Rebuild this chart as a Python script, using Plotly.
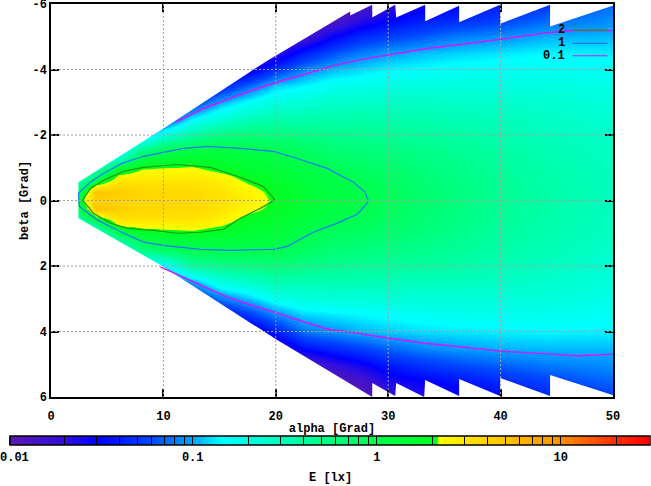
import numpy as np
import plotly.graph_objects as go

alpha = [2.4, 4, 6, 8, 10, 12.5, 15, 17.5, 20, 22.5, 25, 27.5, 30, 33, 36, 40, 44, 50]
beta = [-6, -5.5, -5, -4.5, -4, -3.5, -3, -2.5, -2, -1.5, -1.25, -1, -.75, -.5, -.25, 0,
        .25, .5, .75, 1, 1.25, 1.5, 2, 2.5, 3, 3.5, 4, 4.5, 5, 5.5, 6]

E_2_4 = [.1, .1, .1, .1, .1, .1, .1, .1, .1, .1, .1, .1, .15, .4, 1.0, 1.7, .9, .4, .15, .1, .1, .1, .1, .1, .1, .1, .1, .1, .1, .1, .1]
E_4 = [.1, .1, .1, .1, .1, .1, .1, .1, .1, .1, .1, .25, .7, 1.9, 5.0, 4.2, 5.0, 1.9, .5, .2, .1, .1, .1, .1, .1, .1, .1, .1, .1, .1, .1]
E_6 = [.1, .1, .1, .1, .1, .1, .1, .1, .1, .1, .3, 1.3, 2.3, 3.4, 4.4, 3.9, 4.4, 3.4, 2.3, .9, .35, .12, .1, .1, .1, .1, .1, .1, .1, .1, .1]
E_8 = [.05, .05, .05, .05, .05, .05, .05, .05, .08, .55, 1.25, 2.05, 2.7, 3.3, 3.7, 3.6, 3.7, 3.3, 2.5, 1.65, 1.0, .55, .1, .05, .05, .05, .05, .05, .05, .05, .05]
E_10 = [.03, .03, .03, .03, .03, .03, .03, .05, .2, .95, 1.45, 2.15, 2.6, 3.2, 3.6, 3.7, 3.6, 3.2, 2.5, 1.85, 1.15, .78, .13, .05, .03, .03, .03, .03, .03, .03, .03]
E_12_5 = [.02, .02, .02, .02, .02, .02, .05, .14, .4, 1.2, 1.7, 2.25, 2.7, 3.2, 3.6, 3.7, 3.6, 3.2, 2.6, 1.95, 1.25, .95, .4, .095, .04, .02, .02, .02, .02, .02, .02]
E_15 = [.02, .02, .02, .02, .02, .04, .1, .22, .55, 1.2, 1.55, 1.85, 2.4, 2.8, 3.1, 3.2, 3.05, 2.75, 2.2, 1.7, 1.25, 1.0, .5, .2, .075, .03, .02, .02, .02, .02, .02]
E_17_5 = [.015, .015, .015, .015, .025, .07, .15, .3, .62, 1.1, 1.35, 1.6, 1.85, 2.15, 2.5, 2.7, 2.45, 1.95, 1.7, 1.45, 1.2, 1.02, .55, .25, .11, .05, .02, .015, .015, .015, .015]
E_20 = [.015, .015, .015, .02, .05, .12, .2, .35, .6, .97, 1.15, 1.35, 1.55, 1.75, 1.9, 1.98, 1.88, 1.7, 1.5, 1.3, 1.12, .99, .6, .33, .17, .085, .04, .018, .015, .015, .015]
E_22_5 = [.012, .012, .015, .04, .085, .14, .22, .35, .55, .8, .95, 1.08, 1.2, 1.32, 1.42, 1.48, 1.4, 1.3, 1.18, 1.03, .92, .78, .53, .33, .2, .12, .075, .035, .013, .012, .012]
E_25 = [.012, .012, .03, .06, .11, .17, .25, .37, .5, .68, .78, .9, 1.02, 1.1, 1.17, 1.2, 1.15, 1.08, .96, .85, .75, .65, .48, .33, .21, .13, .09, .045, .02, .01, .01]
E_27_5 = [.011, .022, .045, .08, .125, .18, .26, .37, .47, .62, .7, .78, .86, .95, 1.02, 1.05, 1.0, .93, .85, .76, .68, .6, .45, .32, .21, .14, .105, .055, .028, .014, .01]
E_30 = [.02, .03, .055, .095, .14, .2, .27, .36, .45, .58, .64, .7, .76, .82, .86, .88, .85, .8, .75, .68, .62, .55, .42, .31, .22, .15, .115, .07, .04, .025, .018]
E_33 = [.025, .04, .065, .11, .15, .2, .27, .34, .42, .52, .56, .6, .64, .67, .69, .7, .68, .66, .63, .59, .54, .5, .4, .3, .22, .16, .125, .085, .05, .03, .022]
E_36 = [.03, .045, .08, .12, .16, .21, .26, .32, .39, .46, .49, .52, .54, .56, .57, .58, .57, .55, .53, .5, .47, .44, .37, .29, .22, .17, .13, .095, .06, .035, .026]
E_40 = [.04, .055, .09, .13, .165, .2, .25, .3, .34, .39, .41, .42, .44, .45, .45, .45, .45, .44, .43, .41, .39, .37, .32, .27, .21, .17, .135, .105, .07, .045, .033]
E_44 = [.05, .07, .105, .14, .17, .2, .24, .27, .3, .33, .345, .355, .365, .37, .375, .375, .37, .365, .355, .345, .33, .32, .28, .25, .21, .17, .14, .11, .08, .055, .042]
E_50 = [.072, .088, .11, .135, .16, .185, .21, .235, .255, .27, .275, .28, .285, .285, .285, .285, .285, .28, .275, .27, .26, .25, .23, .21, .185, .16, .135, .11, .09, .07, .055]

edge_top_alpha = [2.44, 10.0, 19.24, 26.62, 26.62, 28.58, 28.58, 30.62, 30.71, 33.29, 33.29, 36.31, 36.31, 39.96, 39.96, 44.4, 44.4, 49.96]
edge_top_beta = [-.56, -2.2, -4.27, -5.77, -5.65, -5.98, -5.59, -5.98, -5.59, -5.98, -5.47, -5.95, -5.44, -5.98, -5.4, -5.98, -5.31, -5.95]
edge_bot_alpha = [2.44, 9.73, 20.13, 28.58, 28.58, 30.62, 30.71, 33.2, 33.29, 36.31, 36.31, 39.96, 39.96, 44.4, 44.4, 49.96]
edge_bot_beta = [.54, 1.97, 4.26, 6.0, 5.57, 5.97, 5.57, 6.0, 5.48, 5.97, 5.45, 5.97, 5.42, 5.97, 5.33, 5.94]

c01_top_alpha = [11.07, 13.56, 15.96, 18.36, 20.13, 23.07, 25.47, 27.24, 28.67, 33.47, 39.96, 43.78, 46.44, 49.91]
c01_top_beta = [-2.39, -2.81, -3.12, -3.42, -3.61, -3.91, -4.15, -4.28, -4.37, -4.64, -4.92, -5.11, -5.19, -5.19]
c01_bot_alpha = [9.73, 12.67, 15.69, 18.62, 21.56, 24.58, 26.62, 29.91, 33.11, 36.4, 39.96, 44.67, 46.8, 49.91]
c01_bot_beta = [2.03, 2.49, 2.95, 3.28, 3.59, 3.93, 4.02, 4.2, 4.35, 4.47, 4.6, 4.69, 4.75, 4.69]
c1_alpha = [2.44, 3.51, 4.67, 6.36, 8.22, 9.91, 11.78, 13.91, 16.84, 19.78, 21.56, 24.58, 26.89, 27.96, 28.22,
            28.13, 27.24, 25.47, 23.33, 21.02, 19.78, 16.22, 13.29, 10, 8.22, 5.91, 4.13, 2.53, 2.44]
c1_beta = [-.22, -.56, -.83, -1.14, -1.35, -1.47, -1.59, -1.65, -1.59, -1.5, -1.32, -.98, -.56, -.25, 0,
           .08, .42, .69, .97, 1.4, 1.49, 1.52, 1.49, 1.37, 1.27, .91, .6, .18, -.22]
c2_alpha = [2.8, 3.51, 4.67, 6.44, 8.22, 11.24, 14.18, 16.84, 18.89, 19.78, 19.87, 19.69, 18.62, 16.84, 15.33,
            13.29, 11.24, 9.11, 6.8, 5.29, 3.78, 2.98, 2.8]
c2_beta = [0, -.37, -.62, -.89, -1.01, -1.1, -1.01, -.71, -.43, -.1, -.04, .02, .24, .54, .88,
           .97, 1.0, .91, .85, .69, .39, .05, 0]

x_ticks = [0, 10, 20, 30, 40, 50]
y_ticks = [-6, -4, -2, 0, 2, 4, 6]
y_labels = ["-6", "-4", "-2", "0", "2", "4", "6"]
cb_major = [0.01, 0.1, 1, 10]
cb_major_labels = ["", "0.1", "1", "10"]
cb_minor = [.02, .03, .04, .05, .06, .07, .08, .09, .2, .3, .4, .5, .6, .7, .8, .9, 2, 3, 4, 5, 6, 7, 8, 9, 20, 30]
legend_labels = ["2", "1", "0.1"]

FONT = "Liberation Mono"
C2, C1, C01 = "#1c9c10", "#1e78ff", "#e010f8"
font = dict(family=FONT, size=12, color="black", weight="bold")

z = np.log10(np.array([E_2_4, E_4, E_6, E_8, E_10, E_12_5, E_15, E_17_5, E_20, E_22_5, E_25, E_27_5,
                       E_30, E_33, E_36, E_40, E_44, E_50])).T

colorscale = [
    [0, "rgb(90,25,175)"], [.0875, "rgb(48,15,220)"], [.14, "rgb(0,0,255)"], [.22, "rgb(0,70,255)"],
    [.2875, "rgb(0,165,255)"], [.333, "rgb(0,255,255)"], [.575, "rgb(0,255,75)"], [.668, "rgb(0,255,30)"],
    [.672, "rgb(255,255,0)"], [.72, "rgb(255,225,0)"], [.77, "rgb(255,200,0)"], [.864, "rgb(255,140,0)"],
    [.945, "rgb(255,50,0)"], [1, "rgb(255,0,0)"],
]

cb_vals = np.log10(cb_major + cb_minor).tolist()
cb_text = cb_major_labels + [""] * len(cb_minor)

fig = go.Figure()
fig.add_trace(go.Heatmap(
    x=alpha, y=beta, z=z, zmin=-2, zmax=np.log10(30), zsmooth="best", colorscale=colorscale, hoverinfo="skip",
    colorbar=dict(
        orientation="h", xref="container", yref="container", x=10 / 651, xanchor="left",
        y=1 - 435.5 / 486, yanchor="top", len=640, lenmode="pixels", thickness=9, thicknessmode="pixels",
        xpad=0, ypad=0, outlinecolor="black", outlinewidth=1.5, borderwidth=0,
        tickmode="array", tickvals=cb_vals, ticktext=cb_text, ticks="inside", ticklen=9,
        tickcolor="black", tickwidth=1, tickfont=font,
    ),
))

# white area outside the measured wedge
mask_x = [0, 50, 50] + edge_top_alpha[::-1] + edge_bot_alpha + [50, 50, 0, 0]
mask_y = [-6, -6, edge_top_beta[-1]] + edge_top_beta[::-1] + edge_bot_beta + [edge_bot_beta[-1], 6, 6, -6]
fig.add_trace(go.Scatter(x=mask_x, y=mask_y, mode="lines", fill="toself", fillcolor="white",
                         line=dict(width=0), hoverinfo="skip", showlegend=False))

for xs, ys, col, w in [(c2_alpha, c2_beta, C2, 1.2), (c1_alpha, c1_beta, C1, 1.2),
                       (c01_top_alpha, c01_top_beta, C01, 1.4), (c01_bot_alpha, c01_bot_beta, C01, 1.4)]:
    fig.add_trace(go.Scatter(x=xs, y=ys, mode="lines", line=dict(color=col, width=w), showlegend=False))

shapes = []
for v in x_ticks[1:-1]:
    shapes.append(dict(type="line", xref="x", yref="y", x0=v, x1=v, y0=-6, y1=6, layer="above",
                       line=dict(color="#a0a0a0", width=1, dash="2px,2px")))
for v in y_ticks[1:-1]:
    shapes.append(dict(type="line", xref="x", yref="y", x0=0, x1=50, y0=v, y1=v, layer="above",
                       line=dict(color="#a0a0a0", width=1, dash="2px,2px")))

annotations = [
    dict(x=(14 - 50.5) / 562.5, y=(397 - 458) / 393.5, xref="paper", yref="paper", text="0.01", showarrow=False,
         xanchor="center", yanchor="middle", font=font),
    dict(x=(330 - 50.5) / 562.5, y=(397 - 478.5) / 393.5, xref="paper", yref="paper", text="E [lx]", showarrow=False,
         xanchor="center", yanchor="middle", font=font),
]
for label, col, yv in zip(legend_labels, [C2, C1, C01], [-5.2, -4.8, -4.42]):
    shapes.append(dict(type="line", xref="x", yref="y", x0=46.4, x1=49.5, y0=yv, y1=yv, layer="above",
                       line=dict(color=col, width=1.2)))
    annotations.append(dict(x=45.9, y=yv, xref="x", yref="y", text=label, showarrow=False,
                            xanchor="right", yanchor="middle", font=font))

fig.update_layout(
    width=651, height=486, autosize=False,
    margin=dict(l=50.5, r=38, t=3.5, b=89, autoexpand=False),
    paper_bgcolor="white", plot_bgcolor="white", font=font, showlegend=False,
    shapes=shapes, annotations=annotations,
    xaxis=dict(range=[0, 50], tickvals=x_ticks, ticks="inside", ticklen=8, tickcolor="black", tickwidth=1.5,
               showline=True, linecolor="black", linewidth=1.5, mirror="ticks", showgrid=False, zeroline=False,
               tickfont=font, ticklabelstandoff=7, title=dict(text="alpha [Grad]", font=font, standoff=9)),
    yaxis=dict(range=[6, -6], tickvals=y_ticks, ticktext=y_labels, ticks="inside", ticklen=8, tickcolor="black",
               tickwidth=1.5, showline=True, linecolor="black", linewidth=1.5, mirror="ticks", showgrid=False,
               zeroline=False, tickfont=font, ticklabeloverflow="allow",
               title=dict(text="beta [Grad]", font=font, standoff=1)),
)
fig.write_html("out.html", post_script="document.body.style.margin='0';", config=dict(displayModeBar=False))
